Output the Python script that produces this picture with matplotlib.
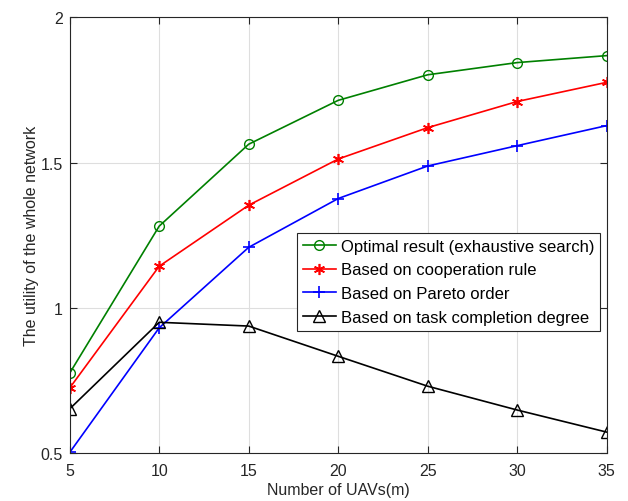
import matplotlib
matplotlib.use("Agg")
import matplotlib.pyplot as plt

x = [5, 10, 15, 20, 25, 30, 35]
optimal = [0.775, 1.281, 1.563, 1.714, 1.802, 1.844, 1.868]
coop = [0.724, 1.143, 1.353, 1.512, 1.620, 1.710, 1.776]
pareto = [0.502, 0.931, 1.208, 1.376, 1.488, 1.558, 1.627]
task = [0.652, 0.950, 0.937, 0.833, 0.730, 0.648, 0.572]

labels = ["Optimal result (exhaustive search)", "Based on cooperation rule",
          "Based on Pareto order", "Based on task completion degree"]

plt.rcParams['font.family'] = ['Liberation Sans', 'DejaVu Sans']

fig = plt.figure(figsize=(6.28, 5.02), dpi=100)
ax = fig.add_axes([0.111, 0.0956, 0.855, 0.868])

ax.plot(x, optimal, color='#008000', marker='o', markersize=7, markerfacecolor='none', lw=1.2, label=labels[0])
ax.plot(x, coop, color='#ff0000', marker=(6, 2, 0), markersize=8, lw=1.2, mew=1.2, label=labels[1])
ax.plot(x, pareto, color='#0000ff', marker='+', markersize=9, lw=1.2, mew=1.2, label=labels[2])
ax.plot(x, task, color='black', marker='^', markersize=8, markerfacecolor='none', lw=1.2, label=labels[3])

ax.set_xlim(5, 35)
ax.set_ylim(0.5, 2)
ax.set_xticks(x)
ax.set_yticks([0.5, 1, 1.5, 2])
ax.set_yticklabels(['0.5', '1', '1.5', '2'])
ax.grid(True, color='#dedede', lw=0.8)
ax.tick_params(direction='in', top=True, right=True, labelsize=11.5, colors='#262626', length=5)
ax.tick_params(axis='x', pad=7)
ax.tick_params(axis='y', pad=5)
for s in ax.spines.values():
    s.set_color('#262626')
    s.set_linewidth(0.8)
ax.set_xlabel('Number of UAVs(m)', fontsize=11.5, color='#262626', labelpad=3)
ax.set_ylabel('The utility of the whole network', fontsize=11.5, color='#262626', labelpad=1)

leg = ax.legend(loc='upper right', bbox_to_anchor=(0.988, 0.505), fontsize=12, fancybox=False,
                edgecolor='#262626', framealpha=1, borderpad=0.35, labelspacing=0.52,
                handlelength=2.0, handletextpad=0.3, borderaxespad=0)
leg.get_frame().set_linewidth(0.8)

fig.savefig('out.png', dpi=100)
